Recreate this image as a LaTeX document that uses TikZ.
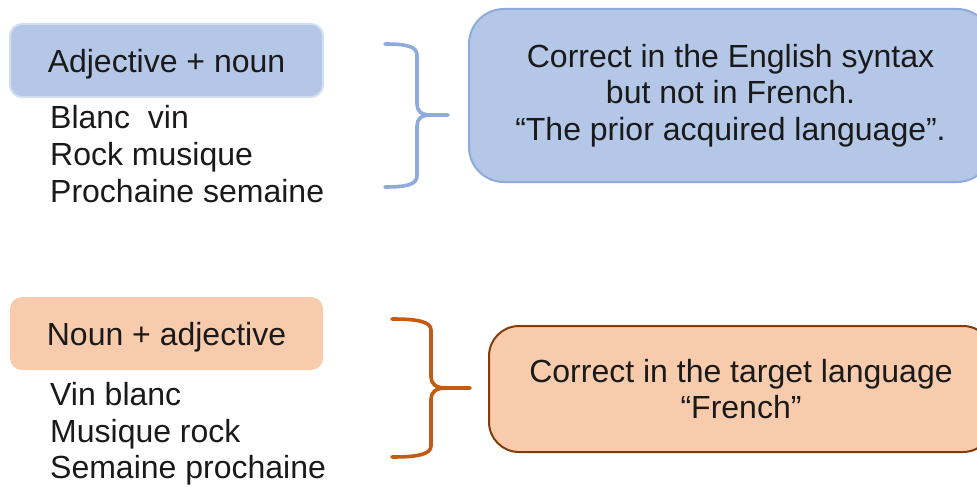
\documentclass[tikz,border=0pt]{standalone}
\usepackage{fontspec}
\setmainfont{Liberation Sans}
\definecolor{bluefill}{HTML}{B4C7E7}
\definecolor{blueline}{HTML}{8FAADC}
\definecolor{paleblue}{HTML}{D3DEF1}
\definecolor{peachfill}{HTML}{F8CBAD}
\definecolor{brownline}{HTML}{843C0C}
\definecolor{orangeline}{HTML}{C55A11}
\definecolor{ink}{HTML}{1A1A1A}
\tikzset{
  txt/.style={font=\fontsize{32}{36.5}\selectfont, text=ink, inner sep=0pt},
  tagbox/.style={txt, rounded corners=12pt, minimum width=313pt, minimum height=73pt,
    text height=24.4pt, text depth=0pt},
  notebox/.style={txt, align=center, line width=2pt},
  listitem/.style={txt, anchor=base west},
  bracepath/.style={line width=3.6pt, line cap=round, line join=round},
}
\begin{document}
\begin{tikzpicture}[x=1pt,y=-1pt]
\useasboundingbox (0,0) rectangle (977,487);

% --- first group: adjective before noun ---
\node[tagbox, fill=bluefill, draw=paleblue, line width=2pt] (adjnoun) at (166.5,60.5) {Adjective + noun};
\node[listitem] (a1) at (50,128) {Blanc\ \ vin};
\node[listitem] (a2) at (50,165) {Rock musique};
\node[listitem] (a3) at (50,202) {Prochaine semaine};

\node[notebox, fill=bluefill, draw=blueline, rounded corners=35pt,
      minimum width=523pt, minimum height=173pt] (english) at (730.5,95.5)
  {Correct in the English syntax\\but not in French.\\“The prior acquired language”.};

% brace joining the examples to the note
\coordinate (bt1) at (385,44);
\coordinate (bt2) at (385,187);
\coordinate (btip) at (448,115);
\draw[bracepath, blueline] (bt1) .. controls (405,44) and (417,46) .. (417,55)
  -- (417,104) .. controls (417,111) and (421,115) .. (431,115) -- (btip);
\draw[bracepath, blueline] (bt2) .. controls (405,187) and (417,185) .. (417,176)
  -- (417,126) .. controls (417,119) and (421,115) .. (431,115);

% --- second group: noun before adjective ---
\node[tagbox, fill=peachfill] (nounadj) at (166.5,333.5) {Noun + adjective};
\node[listitem] (n1) at (50,405) {Vin blanc};
\node[listitem] (n2) at (50,442) {Musique rock};
\node[listitem] (n3) at (50,478) {Semaine prochaine};

\node[notebox, fill=peachfill, draw=brownline, rounded corners=30pt,
      minimum width=504pt, minimum height=126pt] (french) at (741,389)
  {Correct in the target language\\“French”};

\coordinate (ot1) at (392,319);
\coordinate (ot2) at (392,457);
\coordinate (otip) at (470,388);
\draw[bracepath, orangeline] (ot1) .. controls (415,319) and (431,321) .. (431,330)
  -- (431,377) .. controls (431,384) and (436,388) .. (446,388) -- (otip);
\draw[bracepath, orangeline] (ot2) .. controls (415,457) and (431,455) .. (431,446)
  -- (431,399) .. controls (431,392) and (436,388) .. (446,388);
\end{tikzpicture}
\end{document}
